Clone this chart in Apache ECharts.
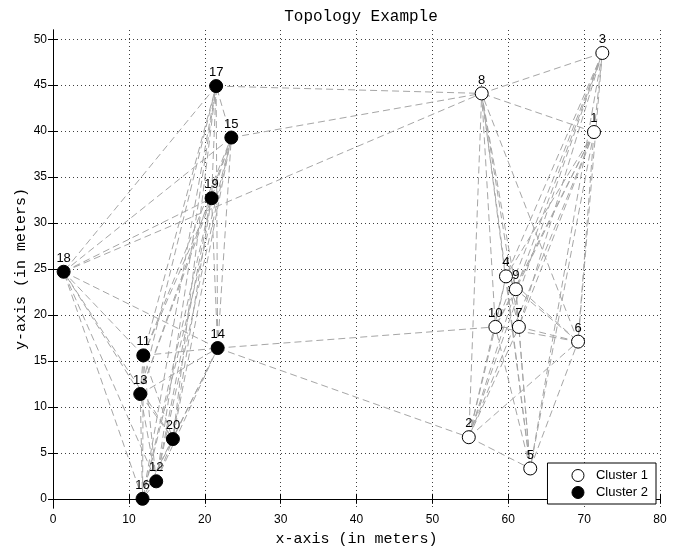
<!DOCTYPE html>
<html>
<head>
<meta charset="utf-8">
<script src="https://cdn.jsdelivr.net/npm/echarts@6/dist/echarts.min.js"></script>
<style>
  html, body { margin: 0; padding: 0; background: #fff; }
  #chart { width: 691px; height: 552px; }
</style>
</head>
<body>
<div id="chart"></div>
<script>
// node positions: [x, y, id]
const cluster1 = [
    [71.3, 39.9, 1],
    [54.8, 6.7, 2],
    [72.4, 48.5, 3],
    [59.7, 24.2, 4],
    [62.9, 3.3, 5],
    [69.2, 17.1, 6],
    [61.4, 18.7, 7],
    [56.5, 44.1, 8],
    [61.0, 22.8, 9],
    [58.3, 18.7, 10],
];
const cluster2 = [
    [11.9, 15.6, 11],
    [13.6, 1.9, 12],
    [11.5, 11.4, 13],
    [21.7, 16.4, 14],
    [23.5, 39.3, 15],
    [11.8, 0.0, 16],
    [21.5, 44.9, 17],
    [1.4, 24.7, 18],
    [20.9, 32.7, 19],
    [15.8, 6.5, 20],
];

// links between node ids
const links = [
    [1, 2], [1, 3], [1, 4], [1, 5], [1, 6], [1, 7], [1, 8], [1, 9], [1, 10],
    [2, 3], [2, 4], [2, 5], [2, 6], [2, 7], [2, 8], [2, 9], [2, 10],
    [3, 4], [3, 5], [3, 6], [3, 7], [3, 8], [3, 9], [3, 10],
    [4, 5], [4, 6], [4, 7], [4, 8], [4, 9], [4, 10],
    [5, 6], [5, 7], [5, 8], [5, 9], [5, 10],
    [6, 7], [6, 8], [6, 9], [6, 10],
    [7, 8], [7, 9], [7, 10],
    [8, 9], [8, 10],
    [9, 10],
    [11, 12], [11, 13], [11, 14], [11, 15], [11, 16], [11, 17], [11, 18], [11, 19], [11, 20],
    [12, 13], [12, 14], [12, 15], [12, 16], [12, 17], [12, 18], [12, 19], [12, 20],
    [13, 14], [13, 15], [13, 16], [13, 17], [13, 18], [13, 19], [13, 20],
    [14, 15], [14, 16], [14, 17], [14, 18], [14, 19], [14, 20],
    [15, 16], [15, 17], [15, 18], [15, 19], [15, 20],
    [16, 17], [16, 18], [16, 19], [16, 20],
    [17, 18], [17, 19], [17, 20],
    [18, 19], [18, 20],
    [19, 20],
    [17, 8], [15, 8], [18, 8], [14, 10], [14, 2],
];

const xTicks = [0, 10, 20, 30, 40, 50, 60, 70, 80];
const yTicks = [0, 5, 10, 15, 20, 25, 30, 35, 40, 45, 50];

const pos = {};
cluster1.concat(cluster2).forEach(p => { pos[p[2]] = [p[0], p[1]]; });
const linkData = links.map(l => ({ coords: [pos[l[0]], pos[l[1]]] }));

const mono = '"Liberation Mono", "DejaVu Sans Mono", monospace';
const sans = '"Liberation Sans", Arial, sans-serif';

const gridLine = { show: true, lineStyle: { color: '#000', type: [1, 3], width: 1, opacity: 0.75 } };
const edgeLine = { show: true, lineStyle: { color: '#000', width: 1 } };

const nodeLabel = {
    show: true,
    position: 'top',
    distance: 0,
    formatter: p => String(p.value[2]),
    color: '#000',
    opacity: 1,
    fontFamily: sans,
    fontSize: 13,
};

const option = {
    animation: false,
    backgroundColor: '#fff',
    title: {
        text: 'Topology Example',
        left: 356,
        top: 4,
        textAlign: 'center',
        textStyle: { fontFamily: mono, fontWeight: 'normal', fontSize: 16, color: '#000' },
    },
    legend: {
        orient: 'vertical',
        right: 35,
        bottom: 48,
        padding: [6, 8, 5, 24],
        itemGap: 4,
        itemWidth: 12,
        itemHeight: 12,
        itemStyle: { borderWidth: 1 },
        borderColor: '#000',
        borderWidth: 1,
        backgroundColor: '#fff',
        textStyle: { fontFamily: sans, fontSize: 13, color: '#000', padding: [0, 0, 0, 7] },
        data: ['Cluster 1', 'Cluster 2'],
    },
    grid: { left: 53, right: 31, top: 30, bottom: 42, containLabel: false },
    xAxis: [
        {
            type: 'value', min: 0, max: 80, interval: 10,
            name: 'x-axis (in meters)', nameLocation: 'middle', nameGap: 24,
            nameMoveOverlap: false,
            nameTextStyle: { fontFamily: mono, fontSize: 15, color: '#000' },
            axisLine: edgeLine,
            axisTick: { show: true, inside: true, length: 5, lineStyle: { color: '#000' } },
            axisLabel: { fontFamily: sans, fontSize: 12, color: '#000', margin: 6 },
            splitLine: gridLine,
        },
        {
            type: 'value', min: 0, max: 80, interval: 10, position: 'top',
            axisLine: edgeLine,
            axisTick: { show: true, inside: true, length: 5, lineStyle: { color: '#000' } },
            axisLabel: { show: false },
            splitLine: { show: false },
        },
    ],
    yAxis: [
        {
            type: 'value', min: -1, max: 51,
            name: 'y-axis (in meters)', nameLocation: 'middle', nameGap: 24,
            nameMoveOverlap: false,
            nameTextStyle: { fontFamily: mono, fontSize: 15, color: '#000' },
            axisLine: edgeLine,
            axisTick: { show: true, inside: true, length: 5, customValues: yTicks, lineStyle: { color: '#000' } },
            axisLabel: { fontFamily: sans, fontSize: 12, color: '#000', margin: 6, customValues: yTicks },
            splitLine: gridLine,
        },
        {
            type: 'value', min: -1, max: 51, position: 'right',
            axisLine: edgeLine,
            axisTick: { show: true, inside: true, length: 5, customValues: yTicks, lineStyle: { color: '#000' } },
            axisLabel: { show: false },
            splitLine: { show: false },
        },
    ],
    series: [
        {
            type: 'lines',
            coordinateSystem: 'cartesian2d',
            xAxisIndex: 0,
            yAxisIndex: 0,
            silent: true,
            z: 1,
            lineStyle: { color: '#a6a6a6', width: 1, type: [7, 4], opacity: 1 },
            data: linkData,
        },
        {
            name: 'Cluster 1',
            type: 'scatter',
            symbol: 'circle',
            symbolSize: 13,
            z: 3,
            itemStyle: { color: '#fff', borderColor: '#000', borderWidth: 1, opacity: 1 },
            label: nodeLabel,
            data: cluster1,
        },
        {
            name: 'Cluster 2',
            type: 'scatter',
            symbol: 'circle',
            symbolSize: 13,
            z: 3,
            itemStyle: { color: '#000', borderColor: '#000', borderWidth: 1, opacity: 1 },
            label: nodeLabel,
            data: cluster2,
        },
    ],
};

const chart = echarts.init(document.getElementById('chart'));
chart.setOption(option);
</script>
</body>
</html>
